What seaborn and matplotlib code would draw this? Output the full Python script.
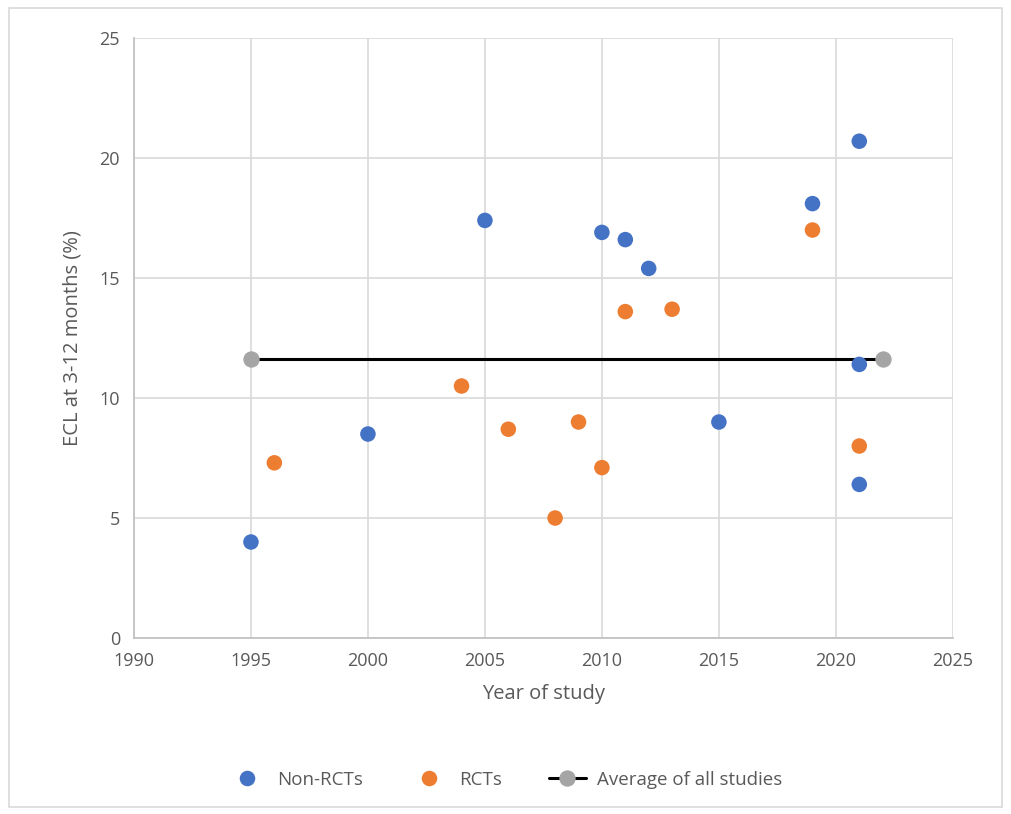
import seaborn as sns
import matplotlib.pyplot as plt
import pandas as pd
from matplotlib.patches import Rectangle

# values
non_rct_year = [1995, 2000, 2005, 2010, 2011, 2012, 2015, 2019, 2021, 2021, 2021]
non_rct_ecl = [4.0, 8.5, 17.4, 16.9, 16.6, 15.4, 9.0, 18.1, 20.7, 11.4, 6.4]
rct_year = [1996, 2004, 2006, 2008, 2009, 2010, 2011, 2013, 2019, 2021]
rct_ecl = [7.3, 10.5, 8.7, 5.0, 9.0, 7.1, 13.6, 13.7, 17.0, 8.0]
avg_year = [1995, 2022]
avg_ecl = [11.63, 11.63]

df = pd.DataFrame({
    "year": non_rct_year + rct_year,
    "ecl": non_rct_ecl + rct_ecl,
    "group": ["Non-RCTs"] * len(non_rct_year) + ["RCTs"] * len(rct_year),
})
avg_df = pd.DataFrame({"year": avg_year, "ecl": avg_ecl})

sns.set_theme(style="white")
plt.rcParams['font.family'] = ['Open Sans', 'DejaVu Sans']
text_col = "#595959"

fig = plt.figure(figsize=(10.11, 8.14), dpi=100)
ax = fig.add_axes([0.1325, 0.2162, 0.81, 0.7371])

sns.lineplot(x="year", y="ecl", data=avg_df, ax=ax, color="black", lw=2.2,
             marker="o", markersize=11, markerfacecolor="#A5A5A5",
             markeredgecolor="#A5A5A5", label="Average of all studies", zorder=3)
sns.scatterplot(x="year", y="ecl", hue="group", data=df, ax=ax,
                palette={"Non-RCTs": "#4472C4", "RCTs": "#ED7D31"},
                s=125, edgecolor="none", zorder=4)

ax.set_xlim(1990, 2025)
ax.set_ylim(0, 25)
ax.set_xticks(range(1990, 2026, 5))
ax.set_yticks(range(0, 26, 5))
ax.grid(True, color="#d9d9d9", lw=1.2)
ax.set_axisbelow(True)
for side in ["top", "right"]:
    ax.spines[side].set_visible(False)
for side in ["left", "bottom"]:
    ax.spines[side].set_color("#bfbfbf")
    ax.spines[side].set_linewidth(1.2)
ax.tick_params(colors=text_col, labelsize=13, length=0, pad=10)
ax.set_xlabel("Year of study", fontsize=14.5, color=text_col, labelpad=10)
ax.set_ylabel("ECL at 3-12 months (%)", fontsize=14.5, color=text_col, labelpad=12)

# legend order like the reference
h, l = ax.get_legend_handles_labels()
order = [l.index("Non-RCTs"), l.index("RCTs"), l.index("Average of all studies")]
leg = ax.legend([h[i] for i in order], [l[i] for i in order], loc="center",
                bbox_to_anchor=(0.5, 0.042), bbox_transform=fig.transFigure,
                ncol=3, frameon=False, fontsize=13.5, columnspacing=2.5,
                handletextpad=0.6, markerscale=1.0)
for t in leg.get_texts():
    t.set_color(text_col)

fig.patches.append(Rectangle((0.009, 0.008), 0.982, 0.982, transform=fig.transFigure,
                             fill=False, edgecolor="#d9d9d9", lw=1.2))

fig.savefig("out.png", dpi=100)
